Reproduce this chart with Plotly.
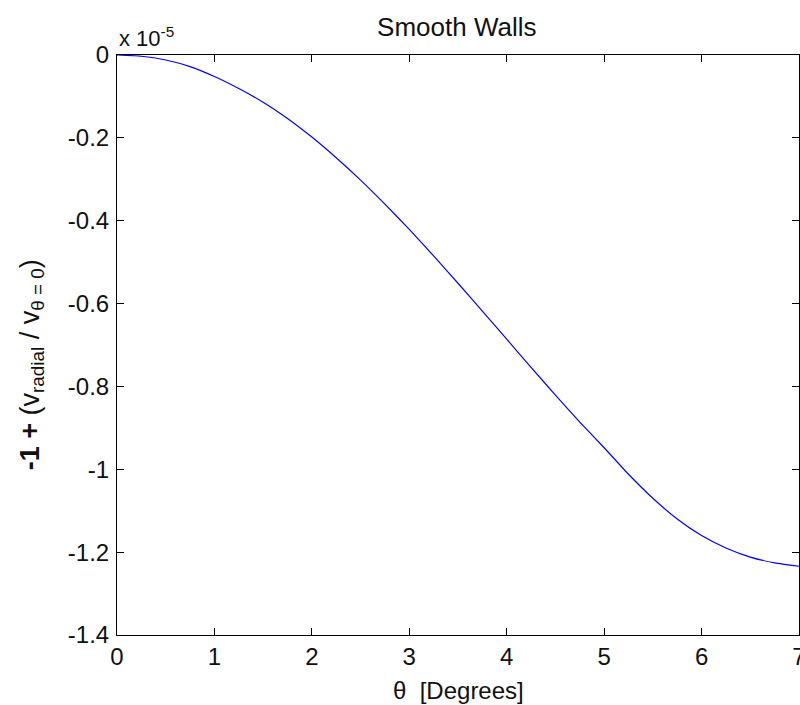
import plotly.graph_objects as go

# theta in degrees
theta = [0.0, 0.25, 0.5, 0.75, 1.0, 1.25, 1.5, 1.75, 2.0, 2.25, 2.5, 2.75, 3.0,
         3.25, 3.5, 3.75, 4.0, 4.25, 4.5, 4.75, 5.0, 5.25, 5.5, 5.75, 6.0,
         6.25, 6.5, 6.75, 7.0]
# -1 + v_radial/v_theta=0, in units of 1e-5
dev = [0.0, -0.003, -0.012, -0.028, -0.052, -0.081, -0.114, -0.153, -0.198,
       -0.248, -0.302, -0.360, -0.421, -0.485, -0.551, -0.618, -0.686, -0.754,
       -0.821, -0.886, -0.948, -1.012, -1.070, -1.120, -1.160, -1.190, -1.212,
       -1.226, -1.234]

x_ticks = [0, 1, 2, 3, 4, 5, 6, 7]
x_labels = ["0", "1", "2", "3", "4", "5", "6", "7"]
y_ticks = [0, -0.2, -0.4, -0.6, -0.8, -1.0, -1.2, -1.4]
y_labels = ["0", "-0.2", "-0.4", "-0.6", "-0.8", "-1", "-1.2", "-1.4"]

FONT = "Liberation Sans, Arial, Helvetica, sans-serif"

fig = go.Figure()
fig.add_trace(go.Scatter(x=theta, y=dev, mode="lines",
                         line=dict(color="#0000ff", width=1.2, shape="spline", smoothing=0.5),
                         showlegend=False, hoverinfo="skip"))

axis_common = dict(showgrid=False, zeroline=False, showline=True, linecolor="black",
                   linewidth=1, mirror="ticks", ticks="inside", ticklen=7,
                   tickcolor="black", tickwidth=1, ticklabeloverflow="allow",
                   automargin=False,
                   tickfont=dict(family=FONT, size=24, color="#111111"))

fig.update_xaxes(range=[0, 7], tickvals=x_ticks, ticktext=x_labels, **axis_common)
fig.update_yaxes(range=[-1.4, 0], tickvals=y_ticks, ticktext=y_labels,
                 ticklabelstandoff=2, **axis_common)

fig.update_layout(
    width=800, height=705,
    margin=dict(l=117, r=1, t=55, b=70, autoexpand=False),
    paper_bgcolor="white", plot_bgcolor="white",
    font=dict(family=FONT, color="#111111"),
    title=dict(text="Smooth Walls", x=0.571, xanchor="center", y=0.962, yanchor="middle",
               font=dict(family=FONT, size=26, color="#111111")),
    annotations=[
        dict(text="x 10<sup>-5</sup>", xref="paper", yref="paper", x=0, y=1.0,
             xanchor="left", yanchor="bottom", yshift=2, showarrow=False,
             font=dict(family=FONT, size=22, color="#111111")),
        dict(text="θ  [Degrees]", xref="paper", yref="paper", x=0.5, y=0,
             xanchor="center", yanchor="middle", yshift=-55, showarrow=False,
             font=dict(family=FONT, size=24, color="#111111")),
        dict(text="<b>-1 +</b> (v<sub>radial</sub> / v<sub>θ = 0</sub>)",
             xref="paper", yref="paper", x=0, y=0.465, xshift=-85,
             xanchor="center", yanchor="middle", textangle=-90, showarrow=False,
             font=dict(family=FONT, size=27, color="#111111")),
    ],
)

fig.write_html("out.html")
